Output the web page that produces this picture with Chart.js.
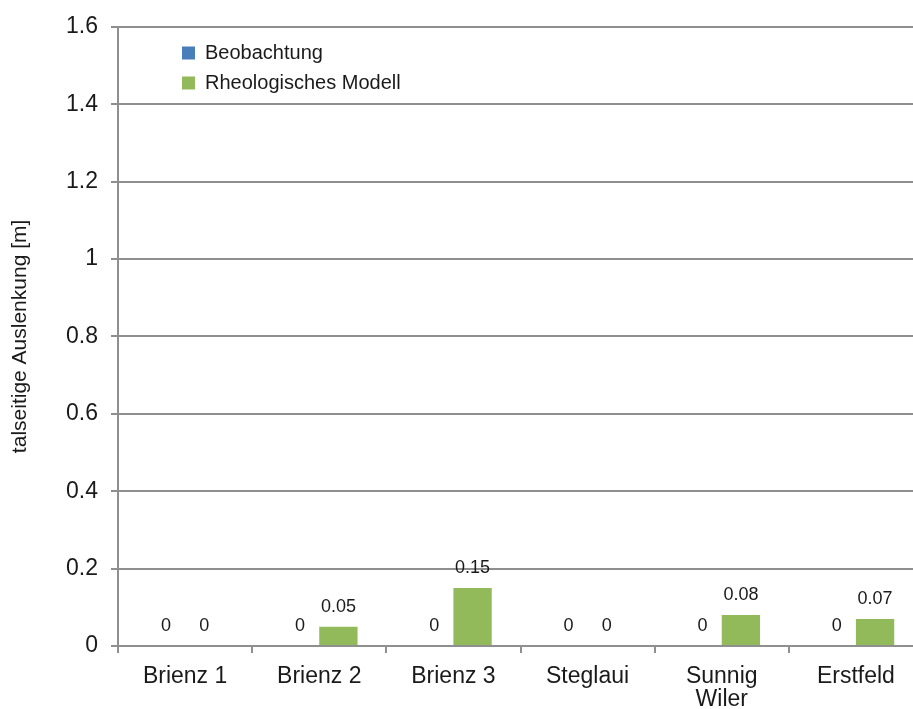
<!DOCTYPE html>
<html>
<head>
<meta charset="utf-8">
<script src="https://cdn.jsdelivr.net/npm/chart.js@4"></script>
<style>
    html, body { margin: 0; padding: 0; background: #fff; overflow: hidden; }
    #wrap { width: 930px; height: 709px; }
</style>
</head>
<body>
<div id="wrap"><canvas id="chart" width="930" height="709"></canvas></div>
<script>
const sites = ['Brienz 1', 'Brienz 2', 'Brienz 3', 'Steglaui', ['Sunnig', 'Wiler'], 'Erstfeld'];
const observed = [0, 0, 0, 0, 0, 0];
const modelled = [0, 0.05, 0.15, 0, 0.08, 0.07];
const yTicks = [0, 0.2, 0.4, 0.6, 0.8, 1, 1.2, 1.4, 1.6];

const FONT = 'Liberation Sans, Arial, sans-serif';
const TEXT = '#1a1a1a';
const GRID = '#8f8f8f';

// Werte über den Säulen
const barValues = {
    id: 'barValues',
    afterDatasetsDraw(chart) {
        const ctx = chart.ctx;
        ctx.save();
        ctx.font = '18px ' + FONT;
        ctx.fillStyle = TEXT;
        ctx.textAlign = 'center';
        ctx.textBaseline = 'middle';
        chart.data.datasets.forEach((ds, i) => {
            chart.getDatasetMeta(i).data.forEach((bar, j) => {
                const v = ds.data[j];
                ctx.fillText(v === 0 ? '0' : v.toFixed(2), bar.x, bar.y - 20);
            });
        });
        ctx.restore();
    },
};

// Legende in die linke obere Ecke der Zeichenfläche schieben
const legendShift = {
    id: 'legendShift',
    afterLayout(chart) {
        const lg = chart.legend;
        if (!lg) {
            return;
        }
        lg.left += 54;
        lg.right += 54;
        lg.top += 33;
        lg.bottom += 33;
    },
};

new Chart(document.getElementById('chart'), {
    type: 'bar',
    data: {
        labels: sites,
        datasets: [
            {
                label: 'Beobachtung',
                data: observed,
                backgroundColor: '#4a7ebb',
            },
            {
                label: 'Rheologisches Modell',
                data: modelled,
                backgroundColor: '#92b95a',
            },
        ],
    },
    options: {
        responsive: false,
        animation: false,
        categoryPercentage: 0.571,
        barPercentage: 1,
        layout: {
            padding: { top: 25, right: 7, left: 0, bottom: 0 },
        },
        scales: {
            x: {
                grid: {
                    drawOnChartArea: false,
                    color: GRID,
                    lineWidth: 2,
                    tickLength: 7,
                },
                border: { color: GRID, width: 2 },
                ticks: {
                    color: TEXT,
                    font: { family: FONT, size: 23, lineHeight: 1 },
                    padding: 12,
                    maxRotation: 0,
                    autoSkip: false,
                },
                afterFit(scale) {
                    scale.height = 63;
                },
            },
            y: {
                min: 0,
                max: 1.6,
                afterBuildTicks(scale) {
                    scale.ticks = yTicks.map((v) => ({ value: v }));
                },
                grid: {
                    color: GRID,
                    lineWidth: 2,
                    tickLength: 7,
                },
                border: { color: GRID, width: 2 },
                ticks: {
                    color: TEXT,
                    font: { family: FONT, size: 23 },
                    padding: 13,
                    callback: (v) => String(Math.round(v * 10) / 10),
                },
                title: {
                    display: true,
                    text: 'talseitige Auslenkung [m]',
                    color: TEXT,
                    font: { family: FONT, size: 21 },
                    padding: { top: 8, bottom: 0 },
                },
                afterFit(scale) {
                    scale.width = 118;
                },
            },
        },
        plugins: {
            legend: {
                position: 'chartArea',
                align: 'start',
                labels: {
                    color: TEXT,
                    font: { family: FONT, size: 20 },
                    boxWidth: 13,
                    boxHeight: 13,
                    padding: 10,
                },
            },
            tooltip: { enabled: false },
        },
    },
    plugins: [barValues, legendShift],
});
</script>
</body>
</html>
